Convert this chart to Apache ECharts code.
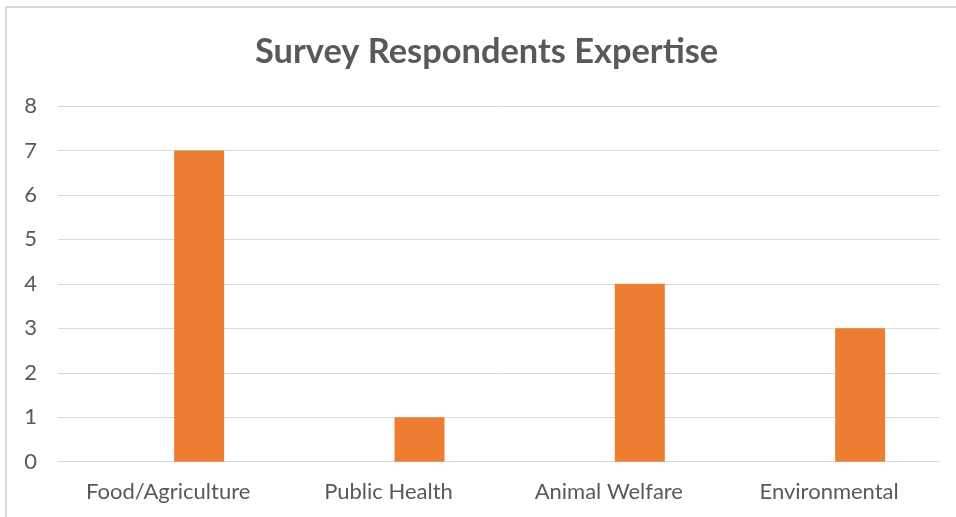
<!DOCTYPE html>
<html>
<head>
<meta charset="utf-8">
<script src="https://cdn.jsdelivr.net/npm/echarts@6/dist/echarts.min.js"></script>
<style>html,body{margin:0;padding:0;background:#fff}#c{width:956px;height:517px}</style>
</head>
<body>
<div id="c"></div>
<script>
const categories = ['Food/Agriculture', 'Public Health', 'Animal Welfare', 'Environmental'];
const blankSeries = [null, null, null, null];
const expertiseCounts = [7, 1, 4, 3];
const yTicks = [0, 1, 2, 3, 4, 5, 6, 7, 8];

const chart = echarts.init(document.getElementById('c'), null, {renderer: 'canvas'});
const FONT = 'Lato, "Open Sans", sans-serif';
chart.setOption({
  animation: false,
  backgroundColor: '#fff',
  title: {
    text: 'Survey Respondents Expertise',
    left: 250,
    top: 30,
    textStyle: {fontFamily: FONT, fontWeight: 'bold', fontSize: 34.4, color: '#595959'}
  },
  graphic: [{
    type: 'rect', silent: true,
    shape: {x: 6, y: 7, width: 1000, height: 600},
    style: {fill: 'none', stroke: '#d9d9d9', lineWidth: 2}
  }],
  grid: {left: 58, right: 16.7, top: 106, bottom: 55.3, containLabel: false},
  xAxis: {
    type: 'category',
    data: categories,
    axisTick: {show: false},
    axisLine: {show: true, lineStyle: {color: '#d9d9d9', width: 1}},
    axisLabel: {fontFamily: FONT, fontSize: 22, color: '#595959', margin: 19}
  },
  yAxis: {
    type: 'value',
    min: yTicks[0], max: yTicks[yTicks.length - 1], interval: 1,
    axisLine: {show: false},
    axisTick: {show: false},
    splitLine: {lineStyle: {color: '#d9d9d9', width: 1}},
    axisLabel: {fontFamily: FONT, fontSize: 22, color: '#595959', margin: 21}
  },
  series: [
    {type: 'bar', name: 'blank', data: blankSeries, barWidth: 50, barGap: '24%', itemStyle: {color: '#4472C4'}},
    {type: 'bar', name: 'Expertise', data: expertiseCounts, barWidth: 50, barGap: '24%', itemStyle: {color: '#ED7D31'}}
  ]
});
</script>
</body>
</html>
